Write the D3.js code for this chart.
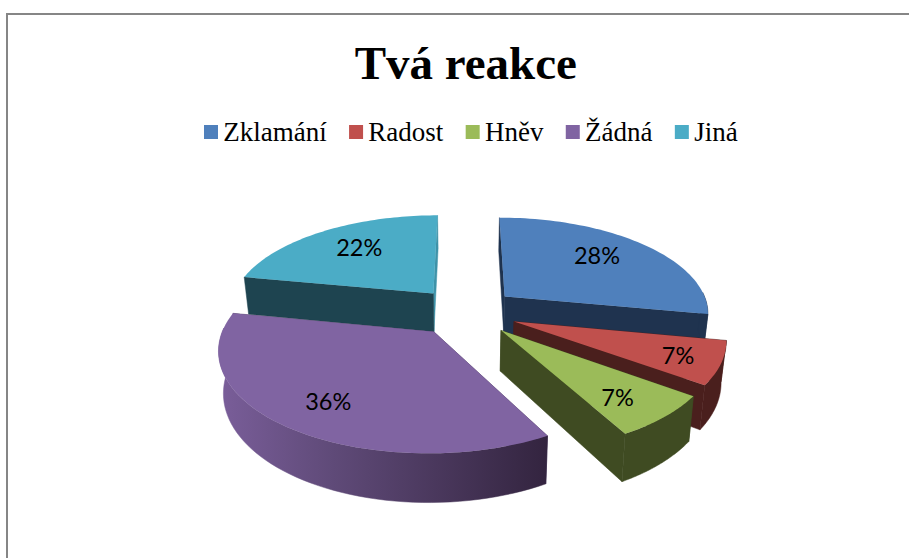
<!DOCTYPE html>
<html><head><meta charset="utf-8">
<script src="https://cdn.jsdelivr.net/npm/d3@7"></script>
<style>html,body{margin:0;padding:0;background:#fff;overflow:hidden}svg{display:block}</style>
</head><body><svg id="c" width="909" height="558"></svg>
<script>
const categories = ["Zklamání","Radost","Hněv","Žádná","Jiná"];
const values = [28,7,7,36,22];
const labels = ["28%","7%","7%","36%","22%"];
const topColors = ["#4f80bc","#c0504d","#9bbb59","#8064a2","#4bacc6"];
const sideColors = ["#1f334f","#4a1f1d","#3f4b22","#4f3d66","#1e4450"];
const title = "Tvá reakce";

// 3D projection parameters
const cx=465.5, cy=311.6, R=205, explode=52, squash=.466, persp=.00076, bottomShrink=.98;
const labelRadius=[196,217,210,207,193];
const labelTurn=[-2.8,.6,2,-.7,1.7];

const svg=d3.select("#c");
const defs=svg.append("defs");
const g=defs.append("linearGradient").attr("id","purpleWall").attr("gradientUnits","userSpaceOnUse")
  .attr("x1",218).attr("x2",548).attr("y1",0).attr("y2",0);
g.append("stop").attr("offset",0).attr("stop-color","#7a5e9a");
g.append("stop").attr("offset",.35).attr("stop-color","#5f4a78");
g.append("stop").attr("offset",1).attr("stop-color","#33243f");

// chart frame: only the top and left edges are visible
svg.append("path").attr("d","M7,558V14H909").attr("fill","none").attr("stroke","#868686").attr("stroke-width",2);

svg.append("text").attr("x",465.8).attr("y",79.3).attr("text-anchor","middle")
  .attr("font-family","'Liberation Serif'").attr("font-weight","bold").attr("font-size",47).attr("fill","#000").text(title);

// legend
let lx=204;
categories.forEach((c,i)=>{
  svg.append("rect").attr("x",lx).attr("y",125).attr("width",14).attr("height",14).attr("fill",topColors[i]);
  const t=svg.append("text").attr("x",lx+19.3).attr("y",141.3).attr("font-family","'Liberation Serif'").attr("font-size",27).attr("fill","#000").text(c);
  lx+=19.3+t.node().getComputedTextLength()+22.3;
});

const project=(px,py,bottom)=>{
  const s=1/(1-persp*py);
  const b=bottom?bottomShrink:1;
  return [cx+px*s*b, cy+squash*py*s+(bottom?42*s-2.5:0)];
};
const arcs=d3.pie().sort(null)(values);
const line=d3.line();
const slices=arcs.map((a,i)=>{
  const mid=(a.startAngle+a.endAngle)/2;
  const ox=explode*Math.sin(mid), oy=-explode*Math.cos(mid);
  const pt=(ang,r)=>[ox+r*Math.sin(ang), oy-r*Math.cos(ang)];
  return {i,a,mid,ox,oy,pt};
}).sort((p,q)=>p.oy-q.oy);

slices.forEach(sl=>{
  const {i,a,ox,oy,pt}=sl;
  const gs=svg.append("g");
  const angs=d3.range(0,61).map(k=>a.startAngle+(a.endAngle-a.startAngle)*k/60);
  const wallColor=i===3?"url(#purpleWall)":sideColors[i];
  // cut walls, farther one first
  const cuts=[a.startAngle,a.endAngle].map(ang=>{
    const e=pt(ang,R);
    return {e,my:(oy+e[1])/2,last:ang===a.endAngle};
  }).sort((p,q)=>p.my-q.my);
  cuts.forEach(c=>{
    const poly=[project(ox,oy,false),project(c.e[0],c.e[1],false),project(c.e[0],c.e[1],true),project(ox,oy,true)];
    const fill=(i===4&&c.last)?"#3f93a9":sideColors[i];
    gs.append("path").attr("d",line(poly)+"Z").attr("fill",fill).attr("stroke",fill).attr("stroke-width",.5);
  });
  // outer wall: only the part of the rim that faces the viewer
  const front=angs.map(t=>({t,p:pt(t,R)})).filter(d=>Math.cos(d.t)<0.05).map(d=>d.p);
  if(front.length>1){
    const wall=front.map(p=>project(p[0],p[1],false)).concat(front.slice().reverse().map(p=>project(p[0],p[1],true)));
    gs.append("path").attr("d",line(wall)+"Z").attr("fill",wallColor).attr("stroke",wallColor).attr("stroke-width",.5);
  }
  // top face
  const rim=angs.map(t=>pt(t,R));
  const top=[project(ox,oy,false)].concat(rim.map(p=>project(p[0],p[1],false)));
  gs.append("path").attr("d",line(top)+"Z").attr("fill",topColors[i]);
});

// data labels
arcs.forEach((a,i)=>{
  const mid=(a.startAngle+a.endAngle)/2+labelTurn[i]*Math.PI/180;
  const r=labelRadius[i];
  const p=project(r*Math.sin(mid),-r*Math.cos(mid),false);
  svg.append("text").attr("x",p[0]).attr("y",p[1]).attr("dy","0.35em").attr("text-anchor","middle")
    .attr("font-family","Lato").attr("font-size",23.5).attr("fill","#000").text(labels[i]);
});
</script></body></html>
